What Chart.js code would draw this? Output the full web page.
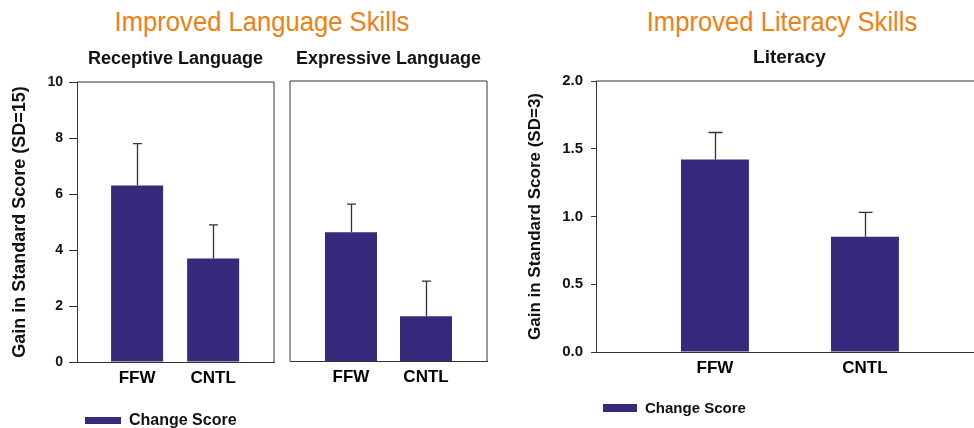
<!DOCTYPE html>
<html>
<head>
<meta charset="utf-8">
<script src="https://cdn.jsdelivr.net/npm/chart.js@4.4.1/dist/chart.umd.min.js"></script>
<style>
  html, body { margin:0; padding:0; width:974px; height:428px; overflow:hidden; background:#fff; }
  body { position:relative; font-family:"Liberation Sans", Arial, sans-serif; }
  canvas { position:absolute; left:0; top:0; }
  .hdr { position:absolute; top:8px; color:#F0800F; font-size:28px; line-height:28px; white-space:nowrap;
         transform:translateX(-50%) scaleX(0.915); transform-origin:center; }
  .leg { position:absolute; font-weight:bold; color:#111; white-space:nowrap; }
  .sw { position:absolute; background:#352A7B; }
</style>
</head>
<body>
<div class="hdr" id="hdrLang" style="left:261.5px;"></div>
<div class="hdr" id="hdrLit" style="left:782px;"></div>
<canvas id="c1" width="974" height="428"></canvas>
<canvas id="c2" width="974" height="428"></canvas>
<canvas id="c3" width="1000" height="428"></canvas>
<div class="sw" style="left:85px; top:417px; width:36px; height:7px;"></div>
<div class="leg" id="leg1" style="left:129px; top:411.5px; font-size:16px; line-height:16px;"></div>
<div class="sw" style="left:603px; top:404px; width:34px; height:8px;"></div>
<div class="leg" id="leg2" style="left:645px; top:400.3px; font-size:15px; line-height:15px;"></div>
<script>
// ---------- data ----------
const HEADER_LANG = 'Improved Language Skills';
const HEADER_LIT = 'Improved Literacy Skills';
const SERIES_NAME = 'Change Score';
const CATEGORIES = ['FFW', 'CNTL'];

const RECEPTIVE = [6.3, 3.7];
const RECEPTIVE_ERR = [1.5, 1.2];
const EXPRESSIVE = [4.6, 1.6];
const EXPRESSIVE_ERR = [1.0, 1.25];
const LITERACY = [1.42, 0.85];
const LITERACY_ERR = [0.2, 0.18];

const LANG_TICKS = [0, 2, 4, 6, 8, 10];
const LANG_TICK_LABELS = ['0', '2', '4', '6', '8', '10'];
const LIT_TICKS = [0, 0.5, 1.0, 1.5, 2.0];
const LIT_TICK_LABELS = ['0.0', '0.5', '1.0', '1.5', '2.0'];

const TITLE_RECEPTIVE = 'Receptive Language';
const TITLE_EXPRESSIVE = 'Expressive Language';
const TITLE_LITERACY = 'Literacy';
const YTITLE_LANG = 'Gain in Standard Score (SD=15)';
const YTITLE_LIT = 'Gain in Standard Score (SD=3)';

// ---------- styles ----------
const BAR_COLOR = '#352A7B';
const AXIS_COLOR = '#333333';
const TEXT_COLOR = '#111111';
Chart.defaults.font.family = '"Liberation Sans", Arial, sans-serif';
Chart.defaults.color = TEXT_COLOR;

document.getElementById('hdrLang').textContent = HEADER_LANG;
document.getElementById('hdrLit').textContent = HEADER_LIT;
document.getElementById('leg1').textContent = SERIES_NAME;
document.getElementById('leg2').textContent = SERIES_NAME;

const errorBars = {
  id: 'errorBars',
  afterDatasetsDraw(chart, args, opts) {
    const meta = chart.getDatasetMeta(0);
    const ys = chart.scales.y;
    const ctx = chart.ctx;
    ctx.save();
    ctx.strokeStyle = opts.color;
    ctx.lineWidth = opts.width;
    meta.data.forEach((bar, i) => {
      const v = chart.data.datasets[0].data[i].y;
      const yt = ys.getPixelForValue(v + opts.errors[i]);
      const x = Math.round(bar.x) + 0.5;
      ctx.beginPath();
      ctx.moveTo(x, bar.y);
      ctx.lineTo(x, yt);
      ctx.moveTo(x - opts.cap / 2, yt);
      ctx.lineTo(x + opts.cap / 2, yt);
      ctx.stroke();
    });
    ctx.restore();
  }
};

const frame = {
  id: 'frame',
  afterDraw(chart, args, opts) {
    const a = chart.chartArea;
    const ctx = chart.ctx;
    ctx.save();
    ctx.strokeStyle = opts.color;
    ctx.lineWidth = opts.width;
    ctx.beginPath();
    const sides = opts.sides || [];
    if (sides.includes('top')) { ctx.moveTo(a.left, a.top); ctx.lineTo(a.right, a.top); }
    if (sides.includes('right')) { ctx.moveTo(a.right, a.top); ctx.lineTo(a.right, a.bottom); }
    if (sides.includes('left')) { ctx.moveTo(a.left, a.top); ctx.lineTo(a.left, a.bottom); }
    if (sides.includes('bottom')) { ctx.moveTo(a.left, a.bottom); ctx.lineTo(a.right, a.bottom); }
    ctx.stroke();
    ctx.restore();
  }
};

function xScale(min, max, fontSize, height) {
  return {
    type: 'linear', min: min, max: max, bounds: 'data', offset: false,
    afterBuildTicks(s) { s.ticks = CATEGORIES.map((c, i) => ({ value: i })); },
    ticks: { callback: (v) => CATEGORIES[v] ?? '', font: { size: fontSize, weight: 'bold' }, color: '#000',
             padding: 6, autoSkip: false, maxRotation: 0 },
    grid: { display: true, offset: false, drawOnChartArea: false, drawTicks: false, color: AXIS_COLOR },
    border: { display: true, color: AXIS_COLOR, width: 1 },
    afterFit(s) { s.height = height; }
  };
}

function makeChart(id, cfg) {
  return new Chart(document.getElementById(id), {
    type: 'bar',
    data: {
      datasets: [{
        label: SERIES_NAME,
        data: CATEGORIES.map((c, i) => ({ x: i, y: cfg.values[i] })),
        backgroundColor: BAR_COLOR,
        borderWidth: 0,
        categoryPercentage: 1,
        barPercentage: cfg.barPct
      }]
    },
    options: {
      responsive: false,
      animation: false,
      events: [],
      layout: { padding: cfg.padding },
      plugins: {
        legend: { display: false },
        tooltip: { enabled: false },
        title: { display: true, text: cfg.title, fullSize: false, color: TEXT_COLOR,
                 font: { size: cfg.titleSize, weight: 'bold' }, padding: { top: 0, bottom: cfg.titlePadBottom } },
        errorBars: { errors: cfg.errors, cap: cfg.cap, color: AXIS_COLOR, width: 1.3 },
        frame: { sides: cfg.frameSides, color: AXIS_COLOR, width: 1 }
      },
      scales: {
        x: xScale(cfg.xMin, cfg.xMax, 17, 30),
        y: cfg.y
      }
    },
    plugins: [errorBars, frame]
  });
}

function yScale(ticks, labels, max, o) {
  return {
    display: o.display, min: 0, max: max,
    afterBuildTicks(s) { s.ticks = ticks.map(v => ({ value: v })); },
    ticks: { callback: (v) => labels[ticks.indexOf(v)] ?? '', font: { size: o.tickSize, weight: 'bold' },
             color: TEXT_COLOR, padding: o.tickPad, autoSkip: false },
    grid: { drawOnChartArea: false, drawTicks: true, tickLength: o.tickLen, color: AXIS_COLOR, lineWidth: 1 },
    border: { display: true, color: AXIS_COLOR, width: 1 },
    title: { display: !!o.title, text: o.title || '', color: TEXT_COLOR,
             font: { size: o.titleSize || 18, weight: 'bold' }, padding: { top: o.titlePad || 0, bottom: 0 } },
    afterFit(s) { if (o.width) s.width = o.width; }
  };
}

// Receptive Language
makeChart('c1', {
  values: RECEPTIVE, errors: RECEPTIVE_ERR, title: TITLE_RECEPTIVE, titleSize: 18, titlePadBottom: 12.2,
  padding: { left: 0, right: 974 - 274, top: 48.2, bottom: 36 },
  xMin: -0.79, xMax: 1.8, barPct: 0.684, cap: 9, frameSides: ['top', 'right'],
  y: yScale(LANG_TICKS, LANG_TICK_LABELS, 10, { display: true, tickSize: 14, tickPad: 6, tickLen: 8,
       title: YTITLE_LANG, titleSize: 18, titlePad: 9.2, width: 77 })
});

// Expressive Language
makeChart('c2', {
  values: EXPRESSIVE, errors: EXPRESSIVE_ERR, title: TITLE_EXPRESSIVE, titleSize: 18, titlePadBottom: 11.2,
  padding: { left: 290, right: 974 - 487, top: 48.2, bottom: 37 },
  xMin: -0.813, xMax: 1.813, barPct: 0.693, cap: 9, frameSides: ['top', 'right', 'left'],
  y: yScale(LANG_TICKS, LANG_TICK_LABELS, 10, { display: false, tickSize: 14, tickPad: 6, tickLen: 8 })
});

// Literacy
makeChart('c3', {
  values: LITERACY, errors: LITERACY_ERR, title: TITLE_LITERACY, titleSize: 19, titlePadBottom: 11.6,
  padding: { left: 515, right: 1000 - 983, top: 46.6, bottom: 46 },
  xMin: -0.793, xMax: 1.787, barPct: 0.453, cap: 14, frameSides: ['top'],
  y: yScale(LIT_TICKS, LIT_TICK_LABELS, 2, { display: true, tickSize: 15, tickPad: 8, tickLen: 5,
       title: YTITLE_LIT, titleSize: 17, titlePad: 9.8, width: 81 })
});
</script>
</body>
</html>
